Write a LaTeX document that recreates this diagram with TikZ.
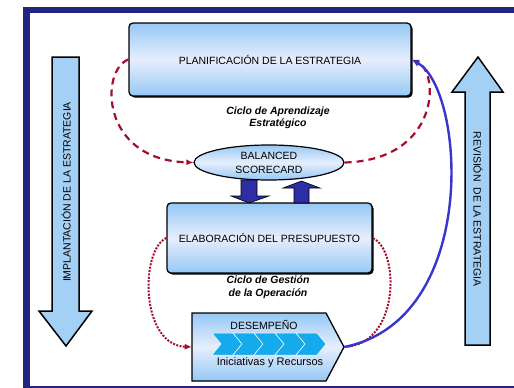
\documentclass[tikz,border=0pt]{standalone}
\usepackage{fontspec}
\setmainfont{Liberation Sans}
\usetikzlibrary{arrows.meta,shapes.geometric,shadows}
\definecolor{navy}{RGB}{35,35,130}
\definecolor{boxedge}{RGB}{150,200,245}
\definecolor{boxmid}{RGB}{230,238,253}
\definecolor{arrowfill}{RGB}{165,208,245}
\definecolor{cyclered}{RGB}{165,15,45}
\definecolor{loopblue}{RGB}{55,55,205}
\definecolor{chevron}{RGB}{20,170,235}
\definecolor{darkarrow}{RGB}{45,45,165}

\begin{document}
\begin{tikzpicture}[x=1pt,y=-1pt,
  every node/.style={font=\fontsize{10.5}{14}\selectfont, align=center, inner sep=0pt},
  stagebox/.style={draw=black, line width=1.3pt, rounded corners=4pt,
    top color=boxedge, bottom color=boxedge, middle color=boxmid,
    drop shadow={shadow xshift=1.5pt, shadow yshift=-1.5pt, fill=black, opacity=1}},
  bscell/.style={ellipse, draw=black, line width=1.2pt,
    top color=boxedge, bottom color=boxedge, middle color=boxmid},
  cyclelabel/.style={font=\fontsize{10.5}{12.5}\selectfont\bfseries\itshape},
  bigarrow/.style={draw=black, line width=1.5pt, fill=arrowfill, line join=miter},
  smallarrow/.style={draw=black, line width=0.6pt, fill=darkarrow},
  learnloop/.style={cyclered, line width=2.2pt, dash pattern=on 7pt off 5pt},
  operloop/.style={cyclered, line width=2pt, dash pattern=on 2pt off 1.4pt},
  reviewloop/.style={loopblue, line width=2.4pt},
  redtip/.style={-{Latex[length=7pt,width=6pt]}},
  bluetip/.style={-{Latex[length=8pt,width=7pt]}}
]
\useasboundingbox (0,0) rectangle (514,388);
\fill[white] (0,0) rectangle (514,388);

% frame
\fill[navy] (23,7) rectangle (514,13);
\fill[navy] (23,7) rectangle (30,388);
\fill[navy] (30,386) rectangle (514,388);

% side arrows
\filldraw[bigarrow] (52,57) -- (79,57) -- (79,311) -- (92,311) -- (66,346) -- (39,311) -- (52,311) -- cycle;
\filldraw[bigarrow] (465,345) -- (490,345) -- (490,92) -- (503,92) -- (478,57) -- (452,92) -- (465,92) -- cycle;
\node[rotate=90] (impl) at (66,192) {IMPLANTACIÓN DE LA ESTRATEGIA};
\node[rotate=-90] (rev) at (478,209) {REVISIÓN\ \ DE LA ESTRATEGIA};

% stages
\node[stagebox, minimum width=282, minimum height=73] (plan) at (270,59.5) {PLANIFICACIÓN DE LA ESTRATEGIA};
\node[bscell, minimum width=150, minimum height=35] (bsc) at (269,162.5) {BALANCED\\SCORECARD};
\node[stagebox, minimum width=205, minimum height=70] (elab) at (269.5,238) {ELABORACIÓN DEL PRESUPUESTO};

% performance block
\node[minimum width=152, minimum height=68] (des) at (268,347) {};
\filldraw[draw=black, line width=1.3pt, top color=boxedge, bottom color=boxedge, middle color=boxmid]
  (192,313) -- (326,313) -- (344,347) -- (326,381) -- (192,381) -- cycle;
\foreach \i in {0,...,4}{
  \pgfmathsetmacro{\xo}{212+21*\i}
  \fill[chevron, draw=white, line width=0.5pt] (\xo,333) -- (\xo+21,333) -- (\xo+30,344) -- (\xo+21,355) -- (\xo,355) -- (\xo+9,344) -- cycle;
}
\node (desl) at (264,325) {DESEMPEÑO};
\node[font=\fontsize{11}{13}\selectfont] (ini) at (270,363) {Iniciativas y Recursos};

% arrows between scorecard and budget
\filldraw[smallarrow] (241,180) -- (257,180) -- (257,196) -- (269,196) -- (249,203) -- (231,196) -- (241,196) -- cycle;
\filldraw[smallarrow] (294,203) -- (309,203) -- (309,188) -- (320,188) -- (301.5,181) -- (283,188) -- (294,188) -- cycle;

% cycle labels
\node[cyclelabel] (lab1) at (278,118) {Ciclo de Aprendizaje\\Estratégico};
\node[cyclelabel] (lab2) at (268,287) {Ciclo de Gestión\\de la Operación};

% strategic learning loop
\draw[learnloop, redtip] (plan.west) .. controls (100,70) and (100,160) .. (bsc.west);
\draw[learnloop, redtip] (bsc.east) .. controls (440,160) and (440,72) .. (plan.east);

% operational loop
\draw[operloop, redtip] (elab.west) .. controls (140,250) and (140,345) .. (des.west);
\draw[operloop] (des.east) .. controls (400,345) and (400,250) .. (elab.east);

% strategy review loop
\draw[reviewloop, bluetip] (des.east) .. controls (480,320) and (465,90) .. (plan.east);
\end{tikzpicture}
\end{document}
